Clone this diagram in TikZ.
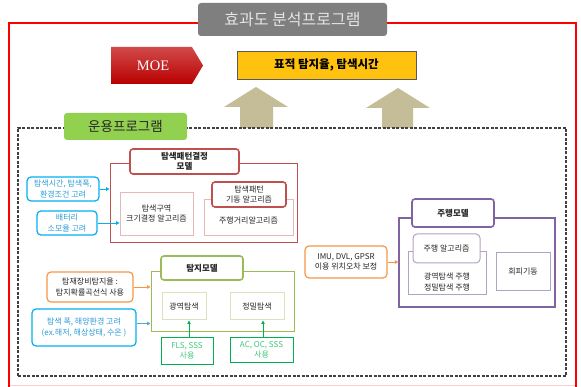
\documentclass[tikz,border=0pt]{standalone}
\usepackage{fontspec}
\setmainfont{Noto Sans CJK KR}
\newfontfamily\moefont{Liberation Serif}
\usetikzlibrary{arrows.meta}
\definecolor{frame}{HTML}{FF0000}
\definecolor{pinkln}{HTML}{FFD0D0}
\definecolor{titlegray}{HTML}{7F7F7F}
\definecolor{titletxt}{HTML}{E4E4E4}
\definecolor{moetop}{HTML}{D24A4A}
\definecolor{moebot}{HTML}{B80000}
\definecolor{yel}{HTML}{FFC20E}
\definecolor{tanarrow}{HTML}{C4BD97}
\definecolor{dashgray}{HTML}{404040}
\definecolor{lgreen}{HTML}{92D050}
\definecolor{txt}{HTML}{262626}
\definecolor{pred}{HTML}{C0504D}
\definecolor{pred2}{HTML}{E6B9B8}
\definecolor{bblue}{HTML}{00B0F0}
\definecolor{btxt}{HTML}{2B9BD8}
\definecolor{teal}{HTML}{4BACC6}
\definecolor{orng}{HTML}{F79646}
\definecolor{dgreen}{HTML}{9BBB59}
\definecolor{dgreen2}{HTML}{D7E4BD}
\definecolor{sgreen}{HTML}{00B050}
\definecolor{sgtxt}{HTML}{3CC878}
\definecolor{purp}{HTML}{8064A2}
\definecolor{purp2}{HTML}{B3A2C7}
\tikzset{
  sm/.style={font=\fontsize{8}{10.5}\selectfont, text=txt, align=center},
  boxx/.style={draw, inner sep=0pt, sm},
  hdr/.style={draw, rounded corners=3pt, line width=1.6pt, fill=white, inner sep=0pt, sm},
  bhdr/.style={hdr, font=\fontsize{8.5}{10.5}\selectfont\bfseries},
  note/.style={draw, rounded corners=4pt, line width=1.2pt, fill=white, inner sep=0pt, sm},
  arr/.style={-{Triangle[length=3.5pt,width=3.5pt]}, line width=0.9pt},
}
\begin{document}
\begin{tikzpicture}[x=1pt,y=-1pt]
\useasboundingbox (0,0) rectangle (581,387);
\fill[white] (0,0) rectangle (581,387);

% outer red frame
\draw[frame, line width=1.6pt] (9,390) -- (9,23) -- (576,23) -- (576,390);
\draw[pinkln, line width=1pt] (10,385) -- (575,385);

% title
\node[fill=titlegray, rounded corners=3pt, minimum width=189pt, minimum height=33pt, inner sep=0pt,
      text=titletxt, font=\fontsize{16}{18}\selectfont] (title) at (292.5,19.5) {효과도 분석프로그램};

% MOE arrow
\shade[top color=moetop, bottom color=moebot] (111,47) -- (192,47) -- (203,65.5) -- (192,84) -- (111,84) -- cycle;
\node[text=white, font=\moefont\fontsize{14.5}{16}\selectfont] (moe) at (153,65.5) {MOE};

% MOE value
\node[draw=black!65, fill=yel, minimum width=179pt, minimum height=28pt, inner sep=0pt,
      font=\fontsize{11.5}{13}\selectfont\bfseries, text=black] (moeval) at (326.5,65) {표적 탐지율, 탐색시간};

% up arrows
\fill[tanarrow] (240,128) -- (240,107) -- (224,107) -- (256,87) -- (288,107) -- (273,107) -- (273,128) -- cycle;
\fill[tanarrow] (382,128) -- (382,108) -- (366,108) -- (398,88) -- (430,108) -- (413,108) -- (413,128) -- cycle;

% operation program dashed box
\node[draw=dashgray, dash pattern=on 3pt off 1.5pt, line width=1.2pt, minimum width=548pt,
      minimum height=248pt, inner sep=0pt] (op) at (292,252) {};
\node[fill=lgreen, rounded corners=3pt, minimum width=123pt, minimum height=27pt, inner sep=0pt,
      text=black!85, font=\fontsize{13.5}{15}\selectfont] (oplabel) at (125.5,126.5) {운용프로그램};

% ---------- search pattern model
\node[boxx, draw=pred, line width=0.8pt, minimum width=187pt, minimum height=79pt] (pm) at (203.5,202.5) {};
\node[boxx, draw=pred2, line width=0.8pt, minimum width=73pt, minimum height=43pt] (pm1) at (156.5,213.5) {탐색구역\\크기결정 알고리즘};
\node[boxx, draw=pred2, line width=0.8pt, minimum width=89pt, minimum height=36pt] (pm2) at (248.5,217) {};
\node[sm] (pm2t) at (248.5,221) {주행거리알고리즘};
\node[hdr, draw=pred, minimum width=74pt, minimum height=25pt] (pm2h) at (249,194.5) {탐색패턴\\기동 알고리즘};
\node[bhdr, draw=pred, minimum width=109pt, minimum height=25pt] (pmh) at (184.5,161.5) {탐색패턴결정\\모델};

\node[note, draw=bblue, text=btxt, minimum width=72pt, minimum height=24pt] (ba) at (63,189) {탐색시간, 탐색폭,\\환경조건 고려};
\node[note, draw=bblue, text=btxt, minimum width=60pt, minimum height=24pt] (bb) at (67,223) {배터리\\소모율 고려};
\draw[arr, bblue] (ba.east) -- (ba.east -| pm.west);
\draw[arr, bblue] (bb.east) -- (bb.east -| pm1.west);

% ---------- detection model
\node[boxx, draw=dgreen, line width=1pt, minimum width=143pt, minimum height=60pt] (dm) at (222.5,302) {};
\node[bhdr, draw=dgreen, minimum width=82pt, minimum height=24pt] (dmh) at (202,268) {탐지모델};
\node[boxx, draw=dgreen2, line width=1pt, minimum width=44pt, minimum height=27pt] (dm1) at (184,306.5) {광역탐색};
\node[boxx, draw=dgreen2, line width=1pt, minimum width=54pt, minimum height=27pt] (dm2) at (257,306.5) {정밀탐색};
\node[boxx, draw=sgreen, line width=1pt, text=sgtxt, minimum width=52pt, minimum height=26pt] (g1) at (187,351) {FLS, SSS\\사용};
\node[boxx, draw=sgreen, line width=1pt, text=sgtxt, minimum width=63pt, minimum height=24pt] (g2) at (261.5,350) {AC, OC, SSS\\사용};
\draw[arr, sgreen, line width=0.8pt] ([xshift=2pt]g1.north) -- ([xshift=2pt]g1.north |- dm1.south);
\draw[arr, sgreen, line width=0.8pt] ([xshift=1.5pt]g2.north) -- ([xshift=1.5pt]g2.north |- dm2.south);

\node[note, draw=orng, minimum width=86pt, minimum height=30pt] (o1) at (90,287) {탐재장비탐지율 :\\탐지확률곡선식 사용};
\node[note, draw=bblue, text=btxt, minimum width=104pt, minimum height=37pt] (bc) at (84,327.5) {탐색 폭, 해양환경 고려\\(ex.해저, 해상상태, 수온 )};
\draw[arr, orng] (o1.east) -- (o1.east -| dm.west);
\draw[arr, teal] ([yshift=4pt]bc.east) -- ([yshift=4pt]bc.east -| dm.west);

% ---------- driving model
\node[boxx, draw=purp, line width=1.2pt, minimum width=156pt, minimum height=89pt] (rm) at (477,262.5) {};
\node[bhdr, draw=purp, minimum width=82pt, minimum height=28pt] (rmh) at (453,213) {주행모델};
\node[boxx, draw=purp2, line width=1pt, minimum width=78pt, minimum height=43pt] (rm1) at (447,273.5) {};
\node[sm] (rm1t) at (447,282) {광역탐색 주행\\정밀탐색 주행};
\node[note, draw=purp2, line width=1pt, minimum width=67pt, minimum height=29pt] (rm1h) at (446.5,248.5) {주행 알고리즘};
\node[boxx, draw=purp2, line width=1pt, minimum width=54pt, minimum height=38pt] (rm2) at (523,272) {회피기동};

\node[note, draw=orng, minimum width=82pt, minimum height=32pt] (o2) at (346,262) {IMU, DVL, GPSR\\이용 위치오차 보정};
\draw[arr, orng] (o2.east) -- (o2.east -| rm.west);
\end{tikzpicture}
\end{document}
